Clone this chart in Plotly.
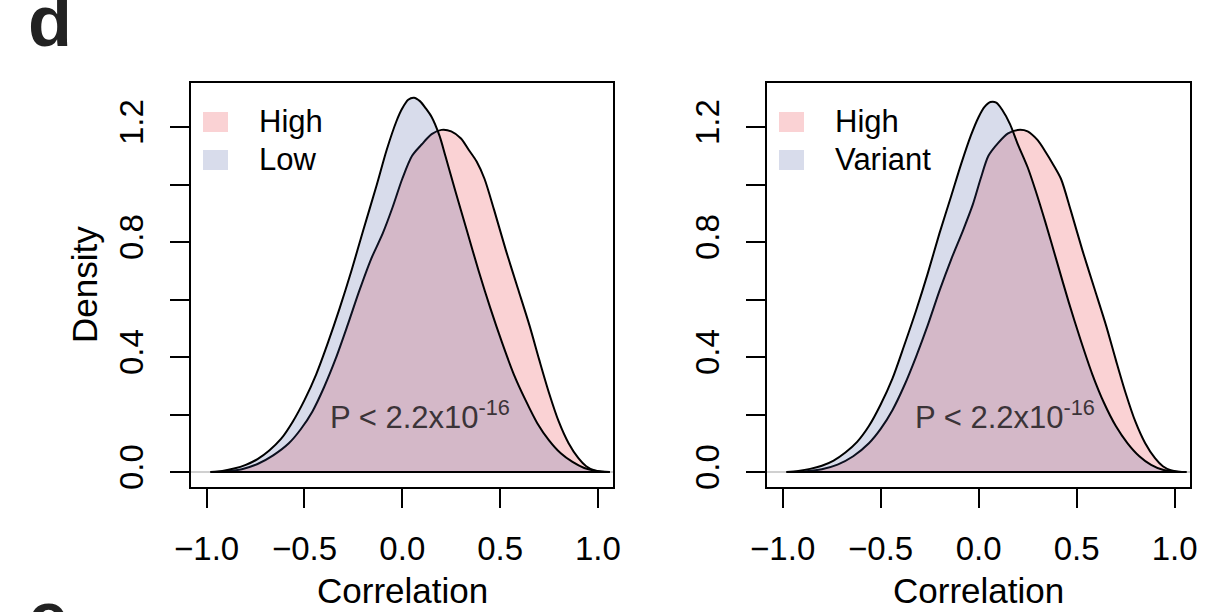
import plotly.graph_objects as go

# Kernel density estimates of correlation, read at the listed x positions
# Panel 1: High vs Low
high1_x = [-0.98, -0.90, -0.82, -0.74, -0.66, -0.58, -0.52, -0.46, -0.40, -0.34, -0.28, -0.22,
           -0.16, -0.10, -0.05, 0.0, 0.05, 0.10, 0.15, 0.20, 0.25, 0.30, 0.34, 0.38, 0.42,
           0.47, 0.53, 0.59, 0.65, 0.70, 0.75, 0.80, 0.85, 0.90, 0.94, 0.98, 1.02, 1.06]
high1_y = [0.0, 0.003, 0.01, 0.028, 0.058, 0.10, 0.148, 0.21, 0.295, 0.395, 0.51, 0.63,
           0.74, 0.83, 0.92, 1.02, 1.10, 1.14, 1.175, 1.19, 1.185, 1.16, 1.12, 1.08, 1.02,
           0.91, 0.77, 0.64, 0.51, 0.39, 0.275, 0.175, 0.10, 0.048, 0.02, 0.006, 0.001, 0.0]
low1_x = [-0.98, -0.92, -0.86, -0.80, -0.74, -0.68, -0.62, -0.56, -0.50, -0.44, -0.38, -0.32,
          -0.26, -0.20, -0.13, -0.08, -0.03, 0.0, 0.03, 0.06, 0.09, 0.12, 0.15, 0.19, 0.22,
          0.27, 0.33, 0.39, 0.45, 0.51, 0.57, 0.63, 0.69, 0.75, 0.81, 0.87, 0.93, 0.99, 1.06]
low1_y = [0.0, 0.004, 0.012, 0.025, 0.045, 0.075, 0.115, 0.175, 0.25, 0.34, 0.45, 0.57,
          0.70, 0.84, 1.0, 1.12, 1.22, 1.265, 1.295, 1.302, 1.29, 1.265, 1.235, 1.17, 1.10,
          0.98, 0.84, 0.70, 0.57, 0.45, 0.34, 0.25, 0.17, 0.11, 0.065, 0.035, 0.014, 0.004, 0.0]

# Panel 2: High vs Variant
high2_x = [-0.98, -0.88, -0.80, -0.72, -0.64, -0.56, -0.50, -0.44, -0.38, -0.32, -0.26, -0.20,
           -0.14, -0.08, -0.03, 0.01, 0.05, 0.10, 0.15, 0.20, 0.25, 0.30, 0.34, 0.38, 0.42,
           0.47, 0.53, 0.59, 0.65, 0.70, 0.75, 0.80, 0.85, 0.90, 0.94, 0.98, 1.02, 1.06]
high2_y = [0.0, 0.003, 0.01, 0.026, 0.055, 0.10, 0.15, 0.215, 0.30, 0.40, 0.51, 0.63,
           0.74, 0.84, 0.93, 1.02, 1.10, 1.145, 1.178, 1.19, 1.185, 1.155, 1.115, 1.07, 1.02,
           0.91, 0.77, 0.64, 0.51, 0.39, 0.275, 0.175, 0.10, 0.048, 0.02, 0.006, 0.001, 0.0]
var2_x = [-0.98, -0.92, -0.86, -0.80, -0.74, -0.68, -0.62, -0.56, -0.50, -0.44, -0.38, -0.32,
          -0.26, -0.20, -0.14, -0.09, -0.04, 0.0, 0.03, 0.06, 0.09, 0.12, 0.16, 0.20, 0.25,
          0.29, 0.34, 0.40, 0.46, 0.52, 0.58, 0.64, 0.70, 0.76, 0.82, 0.88, 0.94, 1.0, 1.06]
var2_y = [0.0, 0.004, 0.011, 0.022, 0.04, 0.068, 0.105, 0.16, 0.235, 0.325, 0.44, 0.56,
          0.69, 0.83, 0.96, 1.07, 1.17, 1.235, 1.27, 1.287, 1.285, 1.26, 1.21, 1.14, 1.06,
          0.98, 0.87, 0.73, 0.59, 0.46, 0.34, 0.24, 0.16, 0.10, 0.055, 0.025, 0.008, 0.002, 0.0]

panels = [
    dict(series=[("High", high1_x, high1_y), ("Low", low1_x, low1_y)], ptext_x=-0.38),
    dict(series=[("High", high2_x, high2_y), ("Variant", var2_x, var2_y)], ptext_x=-0.336),
]

x_ticks = [-1.0, -0.5, 0.0, 0.5, 1.0]
x_ticktext = ["\u22121.0", "\u22120.5", "0.0", "0.5", "1.0"]
y_ticks = [0.0, 0.2, 0.4, 0.6, 0.8, 1.0, 1.2]
y_ticktext = ["0.0", "", "0.4", "", "0.8", "", "1.2"]

fills = ["rgba(230,30,40,0.2)", "rgba(60,80,155,0.2)"]
FONT = "Liberation Sans, Arial, Helvetica, sans-serif"
W, H = 1226, 612

# plot box positions (pixels)
boxes = [(191, 613.3), (767, 1190)]
box_top, box_bottom = 83.3, 486.7


def px(xp):
    return xp / W


def py(yp):
    return 1 - yp / H


fig = go.Figure()

for i, panel in enumerate(panels):
    xa = "x" if i == 0 else "x2"
    ya = "y" if i == 0 else "y2"
    xs_all = []
    for (name, xs, ys), fc in zip(panel["series"], fills):
        xs_all += xs
        fig.add_trace(go.Scatter(
            x=xs, y=ys, xaxis=xa, yaxis=ya, mode="lines", name=name,
            fill="tozeroy", fillcolor=fc,
            line=dict(color="black", width=2, shape="spline", smoothing=0.8),
            showlegend=False, hoverinfo="skip"))
    # polygon base along zero
    fig.add_trace(go.Scatter(
        x=[min(xs_all), max(xs_all)], y=[0, 0], xaxis=xa, yaxis=ya, mode="lines",
        line=dict(color="black", width=2), showlegend=False, hoverinfo="skip"))
    fig.add_annotation(
        x=panel["ptext_x"], y=0.2, xref=xa, yref=ya, xanchor="left", yanchor="middle",
        text="P < 2.2x10<sup>-16</sup>", showarrow=False,
        font=dict(family=FONT, size=31, color="#3b3438"))

axis_common = dict(showline=True, mirror=True, linecolor="black", linewidth=2,
                   ticks="outside", ticklen=19, tickwidth=2, tickcolor="black",
                   showgrid=False, automargin=False,
                   tickfont=dict(family=FONT, size=33, color="black"))

for i, (x0, x1) in enumerate(boxes):
    sfx = "" if i == 0 else "2"
    fig.layout["xaxis" + sfx] = dict(
        axis_common, domain=[px(x0), px(x1)], range=[-1.080, 1.0785],
        tickvals=x_ticks, ticktext=x_ticktext, zeroline=False,
        ticklabelstandoff=13, anchor="y" + sfx)
    fig.layout["yaxis" + sfx] = dict(
        axis_common, domain=[py(box_bottom), py(box_top)], range=[-0.051, 1.352],
        tickvals=y_ticks, ticktext=y_ticktext, tickangle=-90,
        zeroline=True, zerolinecolor="#d0d0d0", zerolinewidth=1.5,
        ticklabelstandoff=14, anchor="x" + sfx)

    # axis title
    fig.add_annotation(x=px((x0 + x1) / 2), y=py(612), xref="paper", yref="paper",
                       xanchor="center", yanchor="bottom", text="Correlation", showarrow=False,
                       font=dict(family=FONT, size=35, color="black"))

    # legend keys
    names = [s[0] for s in panels[i]["series"]]
    for k, (name, fc) in enumerate(zip(names, fills)):
        top = 112 + 38 * k
        fig.add_shape(type="rect", xref="paper", yref="paper",
                      x0=px(x0 + 12), x1=px(x0 + 37), y0=py(top + 20), y1=py(top),
                      fillcolor=fc, line=dict(width=0))
        fig.add_annotation(x=px(x0 + 66), y=py(top + 10), xref="paper", yref="paper",
                           xanchor="left", yanchor="middle", text=name, showarrow=False,
                           font=dict(family=FONT, size=31, color="black"))

fig.add_annotation(x=px(84), y=py((box_top + box_bottom) / 2), xref="paper", yref="paper",
                   xanchor="center", yanchor="middle", text="Density", textangle=-90,
                   showarrow=False, font=dict(family=FONT, size=35, color="black"))

# panel letters
fig.add_annotation(x=px(26), y=py(-21), xref="paper", yref="paper", xanchor="left", yanchor="top",
                   text="<b>d</b>", showarrow=False, font=dict(family=FONT, size=72, color="#222222"))
fig.add_annotation(x=px(26), y=py(575), xref="paper", yref="paper", xanchor="left", yanchor="top",
                   text="<b>e</b>", showarrow=False, font=dict(family=FONT, size=72, color="#222222"))

fig.update_layout(width=W, height=H, margin=dict(l=0, r=0, t=0, b=0),
                  paper_bgcolor="white", plot_bgcolor="white", showlegend=False)

fig.write_html("out.html")
